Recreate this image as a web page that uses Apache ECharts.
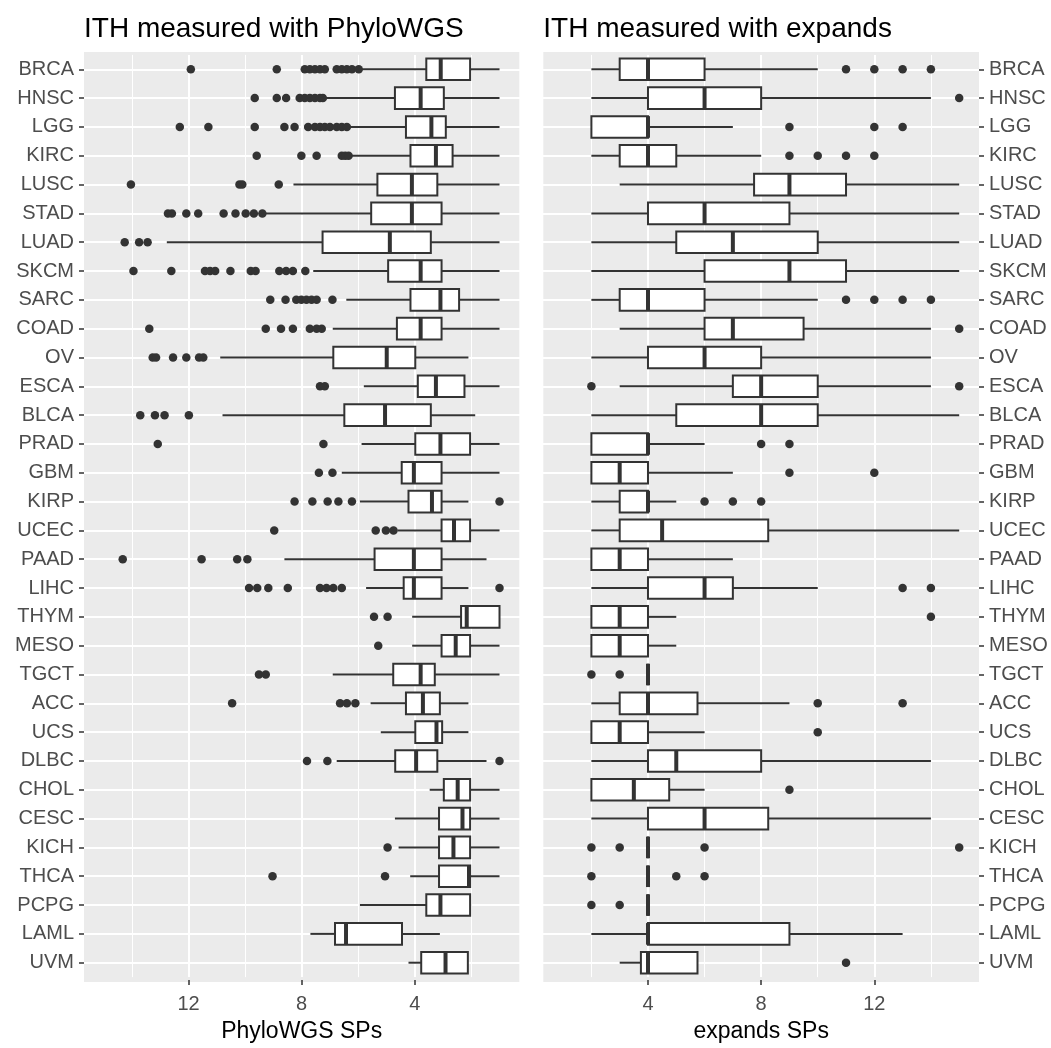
<!DOCTYPE html>
<html><head><meta charset="utf-8">
<script src="https://cdn.jsdelivr.net/npm/echarts@6/dist/echarts.min.js"></script>
<style>html,body{margin:0;padding:0;background:#fff}#c{width:1051px;height:1048px}</style>
</head><body><div id="c"></div>
<script>
const categories = ['BRCA','HNSC','LGG','KIRC','LUSC','STAD','LUAD','SKCM','SARC','COAD','OV','ESCA','BLCA','PRAD','GBM','KIRP','UCEC','PAAD','LIHC','THYM','MESO','TGCT','ACC','UCS','DLBC','CHOL','CESC','KICH','THCA','PCPG','LAML','UVM'];
const xTickLabels = [4, 8, 12];

// PhyloWGS panel: whisker min, Q1, median, Q3, whisker max
const phyloMin    = [1,1,1,1,1,1,1,1,1,1,2.10,1,1.86,1,1,2.10,1,1.46,2.10,1,1,1,2.10,2.10,1.46,1,1,1,1,2.04,3.11,2.12];
const phyloQ1     = [2.04,2.97,2.90,2.66,3.20,3.05,3.43,3.05,2.43,3.05,3.98,2.24,3.43,2.04,3.05,3.05,2.04,3.05,3.05,1,2.04,3.29,3.11,3.03,3.20,2.04,2.04,2.04,2.04,2.04,4.45,2.12];
const phyloMedian = [3.08,3.79,3.41,3.25,4.10,4.10,4.88,3.79,3.09,3.79,4.99,3.25,5.05,3.09,4.03,3.39,2.61,4.03,4.03,2.16,2.55,3.79,3.71,3.23,3.95,2.48,2.31,2.63,2.08,3.09,6.43,2.91];
const phyloQ3     = [3.59,4.70,4.31,4.15,5.32,5.54,7.26,4.94,4.15,4.63,6.88,3.89,6.49,3.98,4.46,4.22,3.05,5.42,4.39,2.36,3.05,4.76,4.31,3.98,4.69,2.97,3.14,3.14,3.14,3.59,6.82,3.77];
const phyloMax    = [5.86,7.15,6.28,6.28,8.29,9.33,12.77,7.59,6.42,6.90,10.88,5.80,10.80,5.88,6.58,5.94,4.61,8.61,5.72,4.09,4.09,6.90,5.56,5.20,6.76,3.47,4.70,4.57,4.16,5.94,7.69,4.22];
const phyloOutliers = [
  [11.92,8.88,7.89,7.71,7.53,7.35,7.18,6.76,6.58,6.40,6.22,5.98],
  [9.66,8.88,8.55,8.07,7.89,7.71,7.53,7.35,7.25],
  [12.31,11.30,9.66,8.61,8.25,7.77,7.53,7.35,7.18,7.00,6.76,6.58,6.40],
  [9.59,8.01,7.47,6.58,6.46,6.34],
  [14.04,10.20,10.10,8.81],
  [12.73,12.59,12.08,11.66,10.76,10.34,9.98,9.69,9.39],
  [14.26,13.75,13.45],
  [13.95,12.61,11.42,11.24,11.06,10.52,9.80,9.63,8.79,8.55,8.31,7.87],
  [9.11,8.57,8.19,8.01,7.83,7.65,7.47,6.91],
  [13.39,9.27,8.73,8.31,7.71,7.47,7.29],
  [13.27,13.15,12.55,12.08,11.63,11.48],
  [7.35,7.18],
  [13.71,13.19,12.85,11.99],
  [13.09,7.23],
  [7.39,6.91],
  [8.25,7.62,7.08,6.70,6.22,1],
  [8.97,5.38,5.02,4.75],
  [14.33,11.54,10.28,9.92],
  [9.86,9.57,9.18,8.49,7.35,7.12,6.88,6.58,1],
  [5.44,4.96],
  [5.29],
  [9.51,9.27],
  [10.46,6.64,6.40,6.10],
  [],
  [7.81,7.09,1],
  [],
  [],
  [4.96],
  [9.03,5.05],
  [],
  [],
  []
];

// expands panel
const expMin    = [2,2,2,2,3,2,2,2,2,3,2,3,2,2,2,2,2,2,2,2,2,4,2,2,2,2,2,4,4,4,2,3];
const expQ1     = [3,4,2,3,7.75,4,5,6,3,6,4,7,5,2,2,3,3,2,4,2,2,4,3,2,4,2,4,4,4,4,4,3.75];
const expMedian = [4,6,4,4,9,6,7,9,4,7,6,8,8,4,3,4,4.5,3,6,3,3,4,4,3,5,3.5,6,4,4,4,4,4];
const expQ3     = [6,8,4,5,11,9,10,11,6,9.5,8,10,10,4,4,4,8.25,4,7,4,4,4,5.75,4,8,4.75,8.25,4,4,4,9,5.75];
const expMax    = [10,14,7,8,15,15,15,15,10,14,14,14,15,6,7,5,15,7,10,5,5,4,9,6,14,6,14,4,4,4,13,5.75];
const expOutliers = [
  [11,12,13,14],[15],[9,12,13],[9,10,11,12],[],[],[],[],[11,12,13,14],[15],[],
  [2,15],[],[8,9],[9,12],[6,7,8],[],[],[13,14],[14],[],[2,3],[10,13],[10],[],[9],[],
  [2,3,6,15],[2,5,6],[2,3],[],[11]
];

const FONT = '"Liberation Sans", Arial, sans-serif';
const INK = '#333333';

function boxData(mn, q1, md, q3, mx) {
  return categories.map((c, i) => [i, mn[i], q1[i], md[i], q3[i], mx[i]]);
}
function outlierData(outs) {
  const arr = [];
  outs.forEach((list, i) => list.forEach(v => arr.push([v, i])));
  return arr;
}
function renderBox(params, api) {
  const cat = api.value(0);
  const pts = [1, 2, 3, 4, 5].map(k => api.coord([api.value(k), cat]));
  const xs = pts.map(p => p[0]);
  const y = pts[0][1];
  const band = api.size([0, 1])[1];
  const h = band * 0.75;
  const x1 = Math.min(xs[1], xs[3]), x2 = Math.max(xs[1], xs[3]);
  const ls = { stroke: INK, lineWidth: 2 };
  return {
    type: 'group',
    children: [
      { type: 'line', shape: { x1: xs[0], y1: y, x2: xs[1], y2: y }, style: ls },
      { type: 'line', shape: { x1: xs[3], y1: y, x2: xs[4], y2: y }, style: ls },
      { type: 'rect', shape: { x: x1, y: y - h / 2, width: x2 - x1, height: h }, style: { fill: '#ffffff', stroke: INK, lineWidth: 2 } },
      { type: 'line', shape: { x1: xs[2], y1: y - h / 2, x2: xs[2], y2: y + h / 2 }, style: { stroke: INK, lineWidth: 4 } }
    ]
  };
}

const PANEL_TOP = 52, PANEL_H = 930;
const BAND = PANEL_H / (categories.length - 1 + 1.2);
const GRID_TOP = PANEL_TOP + 0.1 * BAND;
const GRID_H = BAND * categories.length;
const GRID_BOTTOM = GRID_TOP + GRID_H;
const PANEL_BOTTOM = PANEL_TOP + PANEL_H;

// panels show value range [0.3, 15.7]; each grid spans [0, 16]
const L = { left: 84, right: 519.3 };
const R = { left: 543.3, right: 979 };
function gridFor(p) {
  const s = (p.right - p.left) / 15.4;
  return { x0: p.left - 0.3 * s, w: 16 * s };
}
const gL = gridFor(L), gR = gridFor(R);

function xAxisFor(gridIndex, name, inverse) {
  return {
    type: 'value', gridIndex, min: 0, max: 16, interval: 4, inverse,
    name, nameLocation: 'middle', nameGap: 40,
    nameTextStyle: { fontSize: 23, color: '#000', fontFamily: FONT },
    offset: PANEL_BOTTOM - GRID_BOTTOM,
    axisLine: { show: false, onZero: false },
    axisTick: { show: true, length: 5, customValues: xTickLabels, lineStyle: { color: INK, width: 1.5 } },
    axisLabel: { customValues: xTickLabels, margin: 14, fontSize: 20, color: '#4d4d4d', fontFamily: FONT,
      formatter: v => xTickLabels.includes(v) ? String(v) : '' },
    splitLine: { show: true, lineStyle: { color: '#ffffff', width: 2 } },
    minorTick: { show: false, splitNumber: 2 },
    minorSplitLine: { show: true, lineStyle: { color: '#ffffff', width: 1 } }
  };
}
function yAxisFor(gridIndex, position, offset) {
  return {
    type: 'category', gridIndex, data: categories, inverse: true, position, offset,
    axisLine: { show: false, onZero: false },
    axisTick: { show: true, alignWithLabel: true, length: 5, lineStyle: { color: INK, width: 1.5 } },
    axisLabel: { margin: 10, fontSize: 20, color: '#4d4d4d', fontFamily: FONT, interval: 0 },
    splitLine: { show: true, alignWithLabel: true, interval: 0, lineStyle: { color: '#ffffff', width: 2 } }
  };
}

const chart = echarts.init(document.getElementById('c'), null, { renderer: 'canvas' });
chart.setOption({
  animation: false,
  backgroundColor: '#ffffff',
  title: [
    { text: 'ITH measured with PhyloWGS', left: L.left, top: 15, padding: 0,
      textStyle: { fontSize: 28, fontWeight: 'normal', color: '#000', fontFamily: FONT } },
    { text: 'ITH measured with expands', left: R.left, top: 15, padding: 0,
      textStyle: { fontSize: 28, fontWeight: 'normal', color: '#000', fontFamily: FONT } }
  ],
  graphic: [
    { type: 'rect', z: -100, silent: true, shape: { x: L.left, y: PANEL_TOP, width: L.right - L.left, height: PANEL_H }, style: { fill: '#ebebeb' } },
    { type: 'rect', z: -100, silent: true, shape: { x: R.left, y: PANEL_TOP, width: R.right - R.left, height: PANEL_H }, style: { fill: '#ebebeb' } }
  ],
  grid: [
    { left: gL.x0, top: GRID_TOP, width: gL.w, height: GRID_H, containLabel: false },
    { left: gR.x0, top: GRID_TOP, width: gR.w, height: GRID_H, containLabel: false }
  ],
  xAxis: [ xAxisFor(0, 'PhyloWGS SPs', true), xAxisFor(1, 'expands SPs', false) ],
  yAxis: [ yAxisFor(0, 'left', -(L.left - gL.x0)), yAxisFor(1, 'right', -((gR.x0 + gR.w) - R.right)) ],
  series: [
    { type: 'custom', name: 'PhyloWGS', xAxisIndex: 0, yAxisIndex: 0, renderItem: renderBox,
      encode: { x: [1, 2, 3, 4, 5], y: 0 }, data: boxData(phyloMin, phyloQ1, phyloMedian, phyloQ3, phyloMax), z: 3 },
    { type: 'scatter', name: 'PhyloWGS outliers', xAxisIndex: 0, yAxisIndex: 0, symbolSize: 8.5,
      itemStyle: { color: INK, opacity: 1 }, data: outlierData(phyloOutliers), z: 4 },
    { type: 'custom', name: 'expands', xAxisIndex: 1, yAxisIndex: 1, renderItem: renderBox,
      encode: { x: [1, 2, 3, 4, 5], y: 0 }, data: boxData(expMin, expQ1, expMedian, expQ3, expMax), z: 3 },
    { type: 'scatter', name: 'expands outliers', xAxisIndex: 1, yAxisIndex: 1, symbolSize: 8.5,
      itemStyle: { color: INK, opacity: 1 }, data: outlierData(expOutliers), z: 4 }
  ]
});
</script></body></html>
